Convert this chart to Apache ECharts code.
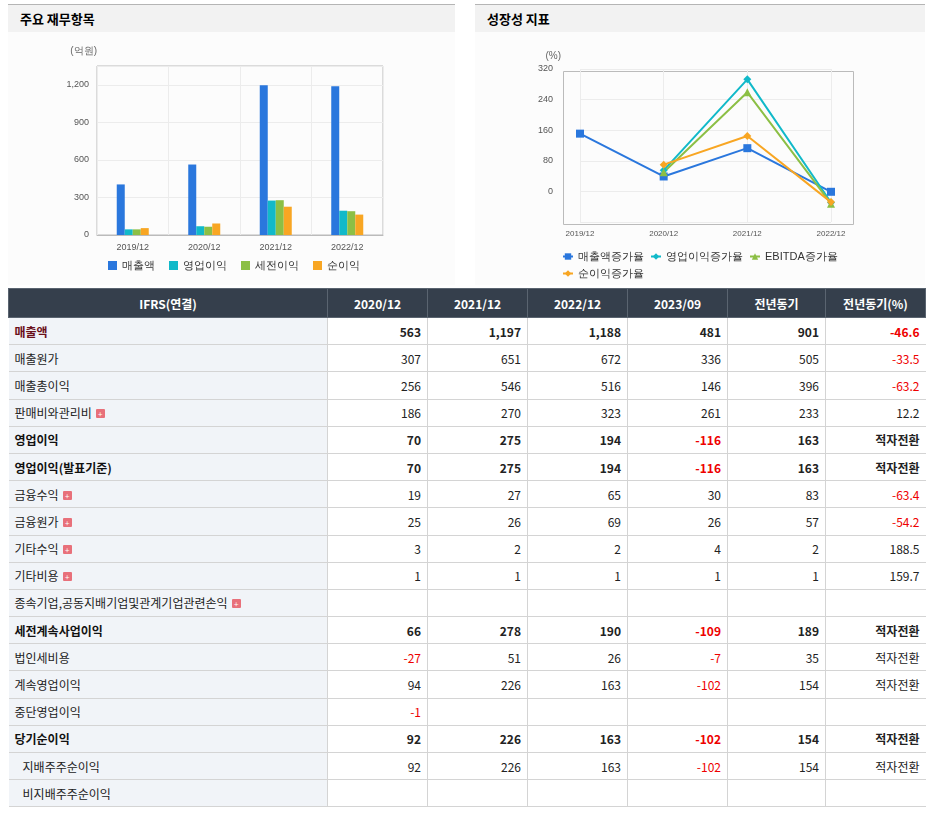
<!DOCTYPE html>
<html><head><meta charset="utf-8">
<script src="https://cdn.jsdelivr.net/npm/echarts@6/dist/echarts.min.js"></script>
<style>
body{margin:0;width:932px;height:828px;background:#fff;font-family:"Noto Sans CJK KR",sans-serif;position:relative;overflow:hidden}
.head{position:absolute;top:4px;height:28px;background:#f2f2f2;border-top:1px solid #b5b5b5;font-size:13px;font-weight:bold;line-height:28px;padding-left:12px;box-sizing:border-box}
.chart{position:absolute;top:32px;height:253px;background:#fcfcfc}
table{position:absolute;left:8px;top:288px;width:917px;border-collapse:collapse;font-size:12px;table-layout:fixed}
th{background:#353f4c;color:#fff;height:28px;padding:0;font-weight:bold;border:1px solid #5a6470;font-size:12px}
td{height:27.2px;padding:0 6px;border-bottom:1px solid #d4d4d4;border-left:1px solid #d4d4d4;text-align:right;color:#222;box-sizing:border-box}
td:first-child{text-align:left;background:#f1f4f8;border-left:none}
tr.b td{font-weight:bold;border-top:1px solid #9aa4b0}
tr.b td:first-child{color:#111}
.neg{color:#e00}
.plus{display:inline-block;width:9px;height:9px;background:#e8707a;color:#fff;font-size:8px;line-height:9px;text-align:center;margin-left:4px;vertical-align:1px;border-radius:1px}
</style></head><body>
<div class="head" style="left:8px;width:447px">주요 재무항목</div>
<div class="head" style="left:475px;width:450px">성장성 지표</div>
<div id="c1" class="chart" style="left:8px;width:447px"></div>
<div id="c2" class="chart" style="left:475px;width:450px"></div>
<table id="tb"></table>
<script>
const years = ["2019/12", "2020/12", "2021/12", "2022/12"];
const sales = [404, 563, 1197, 1188];
const opProfit = [45, 70, 275, 194];
const preTax = [45, 66, 278, 190];
const netProfit = [55, 92, 226, 163];

const salesGrowth = [151, 39, 113, -1];
const opGrowth = [null, 55, 293, -29];
const ebitdaGrowth = [null, 50, 259, -32];
const netGrowth = [null, 70, 145, -28];

const tableHeads = ["IFRS(연결)", "2020/12", "2021/12", "2022/12", "2023/09", "전년동기", "전년동기(%)"];
const tableRows = [
  ["매출액", "563", "1,197", "1,188", "481", "901", "-46.6", 1, 0],
  ["매출원가", "307", "651", "672", "336", "505", "-33.5", 0, 0],
  ["매출총이익", "256", "546", "516", "146", "396", "-63.2", 0, 0],
  ["판매비와관리비", "186", "270", "323", "261", "233", "12.2", 0, 1],
  ["영업이익", "70", "275", "194", "-116", "163", "적자전환", 1, 0],
  ["영업이익(발표기준)", "70", "275", "194", "-116", "163", "적자전환", 1, 0],
  ["금융수익", "19", "27", "65", "30", "83", "-63.4", 0, 1],
  ["금융원가", "25", "26", "69", "26", "57", "-54.2", 0, 1],
  ["기타수익", "3", "2", "2", "4", "2", "188.5", 0, 1],
  ["기타비용", "1", "1", "1", "1", "1", "159.7", 0, 1],
  ["종속기업,공동지배기업및관계기업관련손익", "", "", "", "", "", "", 0, 1],
  ["세전계속사업이익", "66", "278", "190", "-109", "189", "적자전환", 1, 0],
  ["법인세비용", "-27", "51", "26", "-7", "35", "적자전환", 0, 0],
  ["계속영업이익", "94", "226", "163", "-102", "154", "적자전환", 0, 0],
  ["중단영업이익", "-1", "", "", "", "", "", 0, 0],
  ["당기순이익", "92", "226", "163", "-102", "154", "적자전환", 1, 0],
  ["\u00a0\u00a0\u00a0지배주주순이익", "92", "226", "163", "-102", "154", "적자전환", 0, 0],
  ["\u00a0\u00a0\u00a0비지배주주순이익", "", "", "", "", "", "", 0, 0]
];

const axisTxt = { color: "#555", fontSize: 9 };
const splitLn = { lineStyle: { color: "#ececec" } };

// 주요 재무항목
(() => {
  let chart = echarts.init(document.querySelector("#c1"));
  let bar = (name, data, color) => ({ name, type: "bar", data, barWidth: 8, barGap: "0%", itemStyle: { color } });
  chart.setOption({
    animation: false,
    grid: { left: 89, right: 72, top: 34, bottom: 50, show: true, borderColor: "#bbb" },
    legend: { bottom: 9, left: 95, itemWidth: 9, itemHeight: 9, itemGap: 14, icon: "rect", textStyle: { fontSize: 11, color: "#333" } },
    xAxis: { type: "category", data: years, axisLine: { lineStyle: { color: "#bbb" } }, axisTick: { show: false }, axisLabel: axisTxt, splitLine: { show: true, lineStyle: { color: "#ececec" } } },
    yAxis: {
      type: "value", min: 0, max: 1350, interval: 300, name: "(억원)", nameGap: 10,
      nameTextStyle: { color: "#666", fontSize: 10, align: "right" },
      axisLabel: { ...axisTxt, formatter: v => v > 1200 ? "" : v.toLocaleString("en-US") },
      splitLine: splitLn
    },
    series: [
      bar("매출액", sales, "#2a77dd"),
      bar("영업이익", opProfit, "#11b9c9"),
      bar("세전이익", preTax, "#8cbf45"),
      bar("순이익", netProfit, "#f8a623")
    ]
  });
})();

// 성장성 지표
(() => {
  let chart = echarts.init(document.querySelector("#c2"));
  let line = (name, data, color, symbol) => ({
    name, type: "line", data, symbol, symbolSize: 8, connectNulls: false,
    lineStyle: { color, width: 2 }, itemStyle: { color }
  });
  chart.setOption({
    animation: false,
    // 바깥 테두리 (플롯 영역보다 좌우로 넓음)
    graphic: [{ type: "rect", left: 86, top: 37, shape: { width: 290, height: 153 }, style: { fill: "none", stroke: "#bbb" }, silent: true }],
    grid: { left: 105, right: 94, top: 37, bottom: 63 },
    legend: { top: 214, left: 82, width: 300, itemWidth: 10, itemHeight: 8, itemGap: 6, textStyle: { fontSize: 11, color: "#333" } },
    xAxis: { type: "category", data: years, boundaryGap: false, axisLine: { show: false }, axisTick: { show: false }, axisLabel: { ...axisTxt, fontSize: 8 }, splitLine: { show: true, lineStyle: { color: "#ececec" } } },
    yAxis: {
      type: "value", min: -80, max: 320, interval: 80, name: "(%)", nameGap: 8, offset: 19,
      nameTextStyle: { color: "#666", fontSize: 10, align: "right" },
      axisLine: { show: false },
      axisLabel: { ...axisTxt, formatter: v => v < 0 ? "" : v },
      splitLine: splitLn
    },
    series: [
      line("매출액증가율", salesGrowth, "#2a77dd", "rect"),
      line("영업이익증가율", opGrowth, "#11b9c9", "diamond"),
      line("EBITDA증가율", ebitdaGrowth, "#8cbf45", "triangle"),
      line("순이익증가율", netGrowth, "#f8a623", "diamond")
    ]
  });
})();

// 표
(() => {
  let tb = document.querySelector("#tb");
  let html = "<colgroup><col style='width:319px'>" + "<col style='width:100px'>".repeat(4) + "<col style='width:98px'><col style='width:100px'></colgroup>";
  html += "<tr>" + tableHeads.map(h => "<th>" + h + "</th>").join("") + "</tr>";
  tableRows.forEach(r => {
    let cls = r[7] ? " class='b'" : "";
    let name = r[0] + (r[8] ? "<span class='plus'>+</span>" : "");
    let first = r[7] && r[0] === "매출액" ? "<td style='color:#6b0f1a'>" + name + "</td>" : "<td>" + name + "</td>";
    let cells = r.slice(1, 7).map(v => "<td" + (v.startsWith("-") ? " class='neg'" : "") + ">" + v + "</td>").join("");
    html += "<tr" + cls + ">" + first + cells + "</tr>";
  });
  tb.innerHTML = html;
})();
</script>
</body></html>
